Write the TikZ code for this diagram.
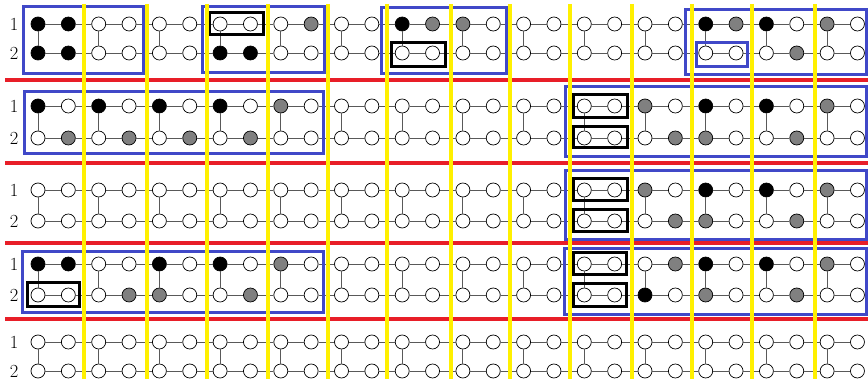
\documentclass[tikz,border=0pt]{standalone}
\definecolor{cw}{RGB}{255,255,255}
\definecolor{ck}{RGB}{0,0,0}
\definecolor{cg}{RGB}{128,128,128}
\definecolor{myyellow}{RGB}{255,240,0}
\definecolor{myred}{RGB}{232,30,40}
\definecolor{myblue}{RGB}{64,72,200}
\newcommand\vrow[3]{%
  \foreach \c [count=\i from 0] in {#3} {\node[vtx,fill=c\c] (n#1-\i) at ({38+30.35*\i},#2) {};}
  \foreach \i [evaluate=\i as \j using int(\i+1)] in {0,...,26} {\draw[edge] (n#1-\i) -- (n#1-\j);}
}
\newcommand\rungs[2]{%
  \foreach \i in {0,2,...,26} {\draw[edge] (n#1-\i) -- (n#2-\i);}
}
\begin{document}
\begin{tikzpicture}[x=1pt,y=-1pt,
  vtx/.style={circle,draw=black,line width=0.7pt,minimum size=14pt,inner sep=0pt},
  edge/.style={draw=black!65,line width=0.9pt},
  lbl/.style={inner sep=0pt,font=\fontsize{18.5}{19}\selectfont},
  bluebox/.style={draw=myblue,line width=3pt},
  blackbox/.style={draw=black,line width=3pt},
  yel/.style={draw=myyellow,line width=3.2pt},
  redline/.style={draw=myred,line width=3.2pt}]
\useasboundingbox (0,0) rectangle (868,379);
% band 1
\node[lbl] (l1a) at (14,24) {1};
\node[lbl] (l1b) at (14,53) {2};
\vrow{1a}{24}{k,k,w,w,w,w,w,w,w,g,w,w,k,g,g,w,w,w,w,w,w,w,k,g,k,w,g,w}
\vrow{1b}{53}{k,k,w,w,w,w,k,k,w,w,w,w,w,w,w,w,w,w,w,w,w,w,w,w,w,g,w,w}
\rungs{1a}{1b}
% band 2
\node[lbl] (l2a) at (14,106) {1};
\node[lbl] (l2b) at (14,138) {2};
\vrow{2a}{106}{k,w,k,w,k,w,k,w,g,w,w,w,w,w,w,w,w,w,w,w,g,w,k,w,k,w,g,w}
\vrow{2b}{138}{w,g,w,g,w,g,w,g,w,w,w,w,w,w,w,w,w,w,w,w,w,g,g,w,w,g,w,w}
\rungs{2a}{2b}
% band 3
\node[lbl] (l3a) at (14,190) {1};
\node[lbl] (l3b) at (14,221) {2};
\vrow{3a}{190}{w,w,w,w,w,w,w,w,w,w,w,w,w,w,w,w,w,w,w,w,g,w,k,w,k,w,g,w}
\vrow{3b}{221}{w,w,w,w,w,w,w,w,w,w,w,w,w,w,w,w,w,w,w,w,w,g,g,w,w,g,w,w}
\rungs{3a}{3b}
% band 4
\node[lbl] (l4a) at (14,264) {1};
\node[lbl] (l4b) at (14,295) {2};
\vrow{4a}{264}{k,k,w,w,k,w,k,w,g,w,w,w,w,w,w,w,w,w,w,w,w,g,k,w,k,w,g,w}
\vrow{4b}{295}{w,w,w,g,g,w,w,g,w,w,w,w,w,w,w,w,w,w,w,w,k,w,g,w,w,g,w,w}
\rungs{4a}{4b}
% band 5
\node[lbl] (l5a) at (14,342) {1};
\node[lbl] (l5b) at (14,371) {2};
\vrow{5a}{342}{w,w,w,w,w,w,w,w,w,w,w,w,w,w,w,w,w,w,w,w,w,w,w,w,w,w,w,w}
\vrow{5b}{371}{w,w,w,w,w,w,w,w,w,w,w,w,w,w,w,w,w,w,w,w,w,w,w,w,w,w,w,w}
\rungs{5a}{5b}
% blue boxes
\foreach \xa/\ya/\xb/\yb in {23/7/143/74, 202/7/324/73, 381/8/506/74, 685/10/866/75,
  696/43/747/67, 24/92/323/154, 565/87/866/157, 565/171/866/240, 22/252/323/313, 564/249/866/315}
  \draw[bluebox] (\xa,\ya) rectangle (\xb,\yb);
% black boxes
\foreach \xa/\ya/\xb/\yb in {209/13/263/35, 391/43/445/67, 573/95/627/118, 573/127/627/148,
  573/179/627/201, 573/210/627/232, 27/283/79/307, 573/253/626/275, 573/284/626/307}
  \draw[blackbox] (\xa,\ya) rectangle (\xb,\yb);
% red separators
\foreach \y in {80,163,243,319}
  \draw[redline] (5,\y) -- (868,\y);
% yellow lines
\foreach \x in {84,147,207,268,328,387,451,510,570,632,692,752,815}
  \draw[yel] (\x,4) -- (\x,379);
\end{tikzpicture}
\end{document}
